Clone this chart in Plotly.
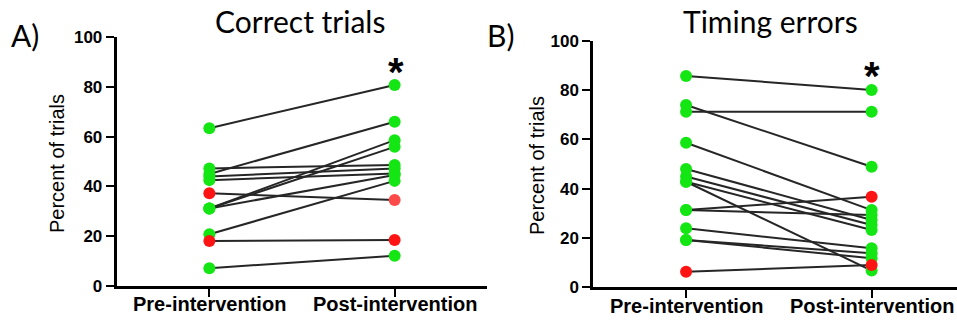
import plotly.graph_objects as go

# ---------------- data ----------------
categories = ["Pre-intervention", "Post-intervention"]
ytick_vals = [0, 20, 40, 60, 80, 100]

# Panel A: Correct trials (one entry per subject)
correct_pre = [63.4, 47.2, 45.0, 44.0, 42.5, 37.2, 31.1, 31.1, 31.1, 20.7, 18.0, 7.0]
correct_post = [80.8, 48.6, 66.0, 47.2, 45.2, 34.5, 58.6, 55.9, 44.6, 42.2, 18.4, 12.1]
correct_pre_group = ["g", "g", "g", "g", "g", "r", "g", "g", "g", "g", "r", "g"]
correct_post_group = ["g", "g", "g", "g", "g", "lr", "g", "g", "g", "g", "r", "g"]

# Panel B: Timing errors
timing_pre = [85.7, 71.2, 73.9, 58.6, 48.0, 44.9, 42.8, 42.8, 31.3, 31.3, 23.9, 19.2, 19.2, 6.3]
timing_post = [80.0, 71.2, 48.9, 31.3, 27.3, 25.3, 6.8, 23.2, 36.7, 29.3, 15.8, 13.8, 11.8, 9.0]
timing_pre_group = ["g"] * 13 + ["r"]
timing_post_group = ["g", "g", "g", "g", "g", "g", "g", "g", "r", "g", "g", "g", "g", "r"]

# ---------------- styling ----------------
GROUP_COLORS = {"g": "#14e614", "r": "#ff1414", "lr": "#ff4a4a"}
LINE_COLOR = "#262626"
SANS = "Liberation Sans, Arial"

fig = go.Figure()


def add_panel(pre, post, pre_grp, post_grp, xa, ya):
    for a, b in zip(pre, post):
        fig.add_trace(go.Scatter(
            x=[0, 1], y=[a, b], mode="lines",
            line=dict(color=LINE_COLOR, width=2),
            xaxis=xa, yaxis=ya, showlegend=False, hoverinfo="skip"))
    for xs, vals, grp in ((0, pre, pre_grp), (1, post, post_grp)):
        fig.add_trace(go.Scatter(
            x=[xs] * len(vals), y=vals, mode="markers",
            marker=dict(size=12, color=[GROUP_COLORS[g] for g in grp], line=dict(width=0)),
            xaxis=xa, yaxis=ya, showlegend=False, cliponaxis=False))


add_panel(correct_pre, correct_post, correct_pre_group, correct_post_group, "x", "y")
add_panel(timing_pre, timing_post, timing_pre_group, timing_post_group, "x2", "y2")

W, H = 957, 320


def px_x(v):
    return v / W


def px_y(v):
    return 1 - v / H


xaxis_common = dict(
    tickmode="array", tickvals=[0, 1], ticktext=["", ""],
    showline=True, linecolor="black", linewidth=3,
    ticks="outside", ticklen=8, tickwidth=2, tickcolor="black",
    showgrid=False, zeroline=False, fixedrange=True, automargin=False,
)
yaxis_common = dict(
    range=[0, 100], tickmode="array", tickvals=ytick_vals,
    showline=True, linecolor="black", linewidth=3,
    ticks="outside", ticklen=8, tickwidth=2, tickcolor="black",
    showgrid=False, zeroline=False, fixedrange=True, automargin=False,
    tickfont=dict(family=SANS, size=17, color="black", weight="bold"),
)

fig.update_layout(
    width=W, height=H,
    margin=dict(l=0, r=0, t=0, b=0, autoexpand=False),
    paper_bgcolor="white", plot_bgcolor="white",
    xaxis=dict(xaxis_common, domain=[px_x(116.7), px_x(487.3)], range=[-0.5, 1.5], anchor="y"),
    yaxis=dict(yaxis_common, domain=[px_y(285.7), px_y(37.3)], anchor="x"),
    xaxis2=dict(xaxis_common, domain=[px_x(593.3), 1.0], range=[-0.5, 1.46], anchor="y2"),
    yaxis2=dict(yaxis_common, domain=[px_y(287.3), px_y(40.7)], anchor="x2"),
)

title_font = dict(family="Lato, Carlito, Calibri", size=30, color="black")
ylab_font = dict(family=SANS, size=20, color="black")
star_font = dict(family=SANS, size=40, color="black")
xlab_font = dict(family=SANS, size=20, color="black", weight="bold")
ann = [
    dict(text="Correct trials", x=px_x(300), y=px_y(21), font=title_font),
    dict(text="Timing errors", x=px_x(770), y=px_y(21), font=title_font),
    dict(text="A)", x=px_x(25), y=px_y(35), font=title_font),
    dict(text="B)", x=px_x(500), y=px_y(35), font=title_font),
    dict(text="Percent of trials", x=px_x(57), y=px_y(164), textangle=-90, font=ylab_font),
    dict(text="Percent of trials", x=px_x(537), y=px_y(166), textangle=-90, font=ylab_font),
    dict(text="<b>*</b>", x=px_x(396), y=px_y(72), font=star_font),
    dict(text="<b>*</b>", x=px_x(872), y=px_y(76), font=star_font),
]
for a in ann:
    a.update(xref="paper", yref="paper")
# category labels under each panel, positioned on the category axes
for xref, ylab in (("x", 304), ("x2", 306)):
    for i, cat in enumerate(categories):
        ann.append(dict(text=cat, x=i, xref=xref, y=px_y(ylab), yref="paper", font=xlab_font))
for a in ann:
    a.update(showarrow=False, xanchor="center", yanchor="middle")
fig.update_layout(annotations=ann)

fig.write_html("out.html")
